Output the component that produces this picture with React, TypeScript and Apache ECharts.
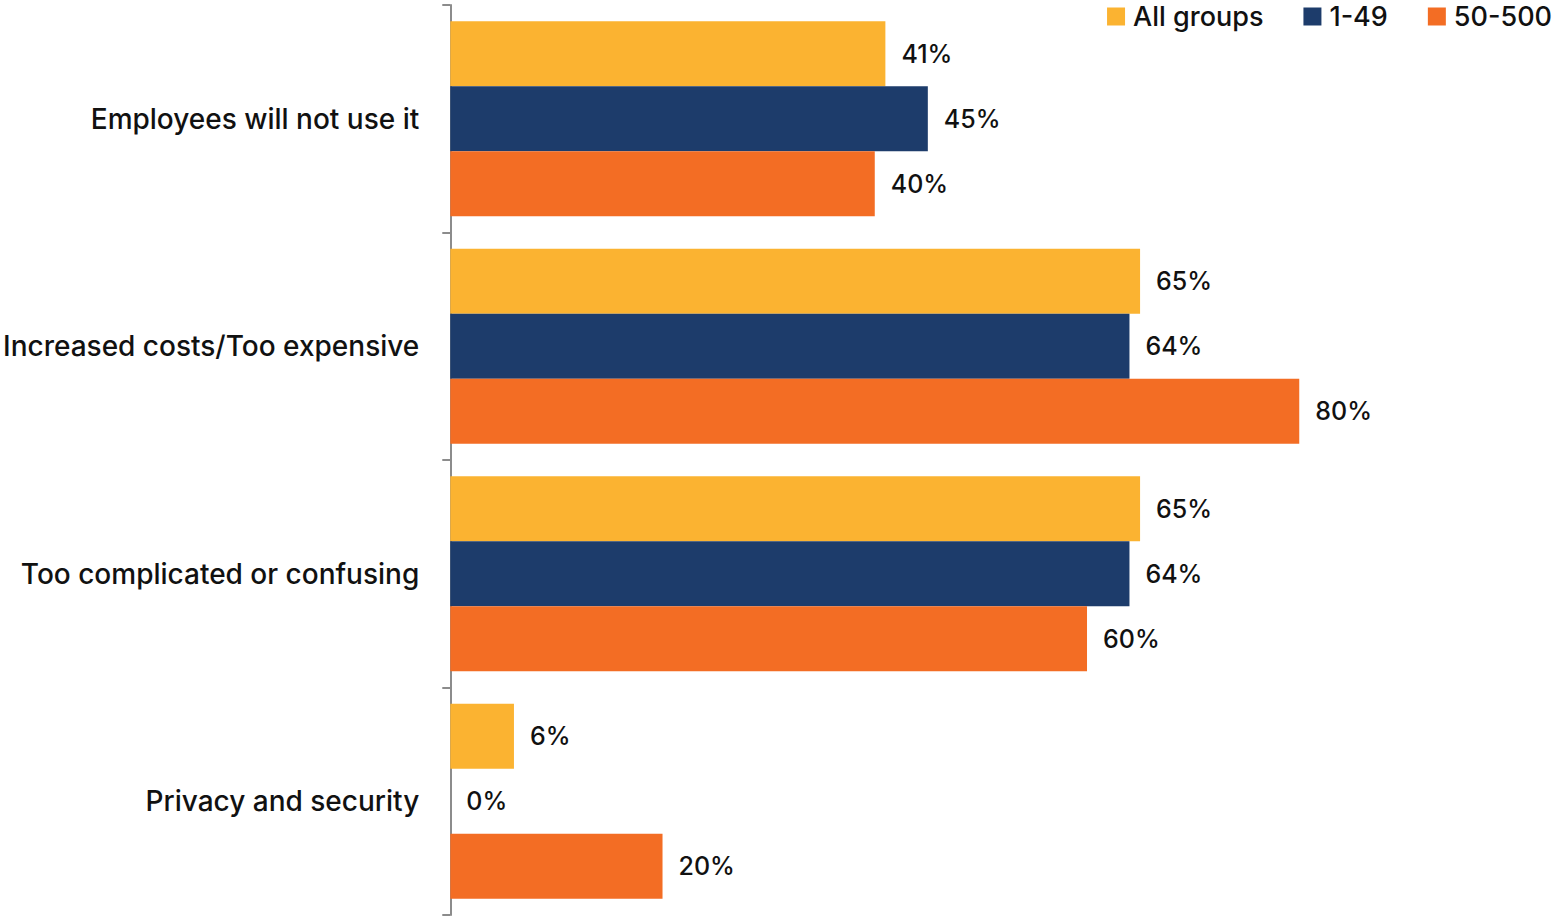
import React, { useEffect, useRef } from "react";
import * as echarts from "echarts";

const categories = [
  "Employees will not use it",
  "Increased costs/Too expensive",
  "Too complicated or confusing",
  "Privacy and security",
];
const seriesNames = ["All groups", "1-49", "50-500"];
const allGroups = [41, 65, 65, 6];
const small = [45, 64, 64, 0];
const medium = [40, 80, 60, 20];
const colors = ["#FBB331", "#1D3C6B", "#F36D24"];

const FONT = "Inter, sans-serif";

export default function App() {
  const ref = useRef<HTMLDivElement>(null);
  useEffect(() => {
    if (!ref.current) return;
    const chart = echarts.init(ref.current, undefined, { renderer: "svg" });
    const values = [allGroups, small, medium];
    chart.setOption({
      animation: false,
      textStyle: { fontFamily: FONT },
      legend: {
        top: -2,
        right: 2,
        itemWidth: 18,
        itemHeight: 18,
        itemGap: 40,
        icon: "rect",
        textStyle: {
          fontSize: 27,
          fontWeight: 500,
          color: "#111",
          fontFamily: FONT,
          padding: [0, 0, 0, 3],
        },
        data: seriesNames,
      },
      grid: { left: 449, right: 47.5, top: 5, bottom: 5, containLabel: false },
      xAxis: {
        type: "value",
        min: 0,
        max: 100,
        show: false,
      },
      yAxis: {
        type: "category",
        data: categories,
        inverse: true,
        axisLine: { show: true, lineStyle: { color: "#8c8c8c", width: 2 } },
        axisTick: { show: true, length: 8, lineStyle: { color: "#8c8c8c", width: 2 } },
        axisLabel: {
          fontSize: 28,
          fontWeight: 500,
          color: "#111",
          margin: 31,
          fontFamily: FONT,
        },
      },
      series: seriesNames.map((name, i) => ({
        name,
        type: "bar",
        data: values[i],
        barGap: "0%",
        barCategoryGap: "14.3%",
        itemStyle: { color: colors[i] },
        label: {
          show: true,
          position: "right",
          distance: 16,
          formatter: "{c}%",
          fontSize: 25,
          fontWeight: 500,
          color: "#111",
          fontFamily: FONT,
        },
      })),
    });
    return () => chart.dispose();
  }, []);
  return (
    <div
      ref={ref}
      style={{ position: "absolute", left: 0, top: 0, width: 1559, height: 920 }}
    />
  );
}
